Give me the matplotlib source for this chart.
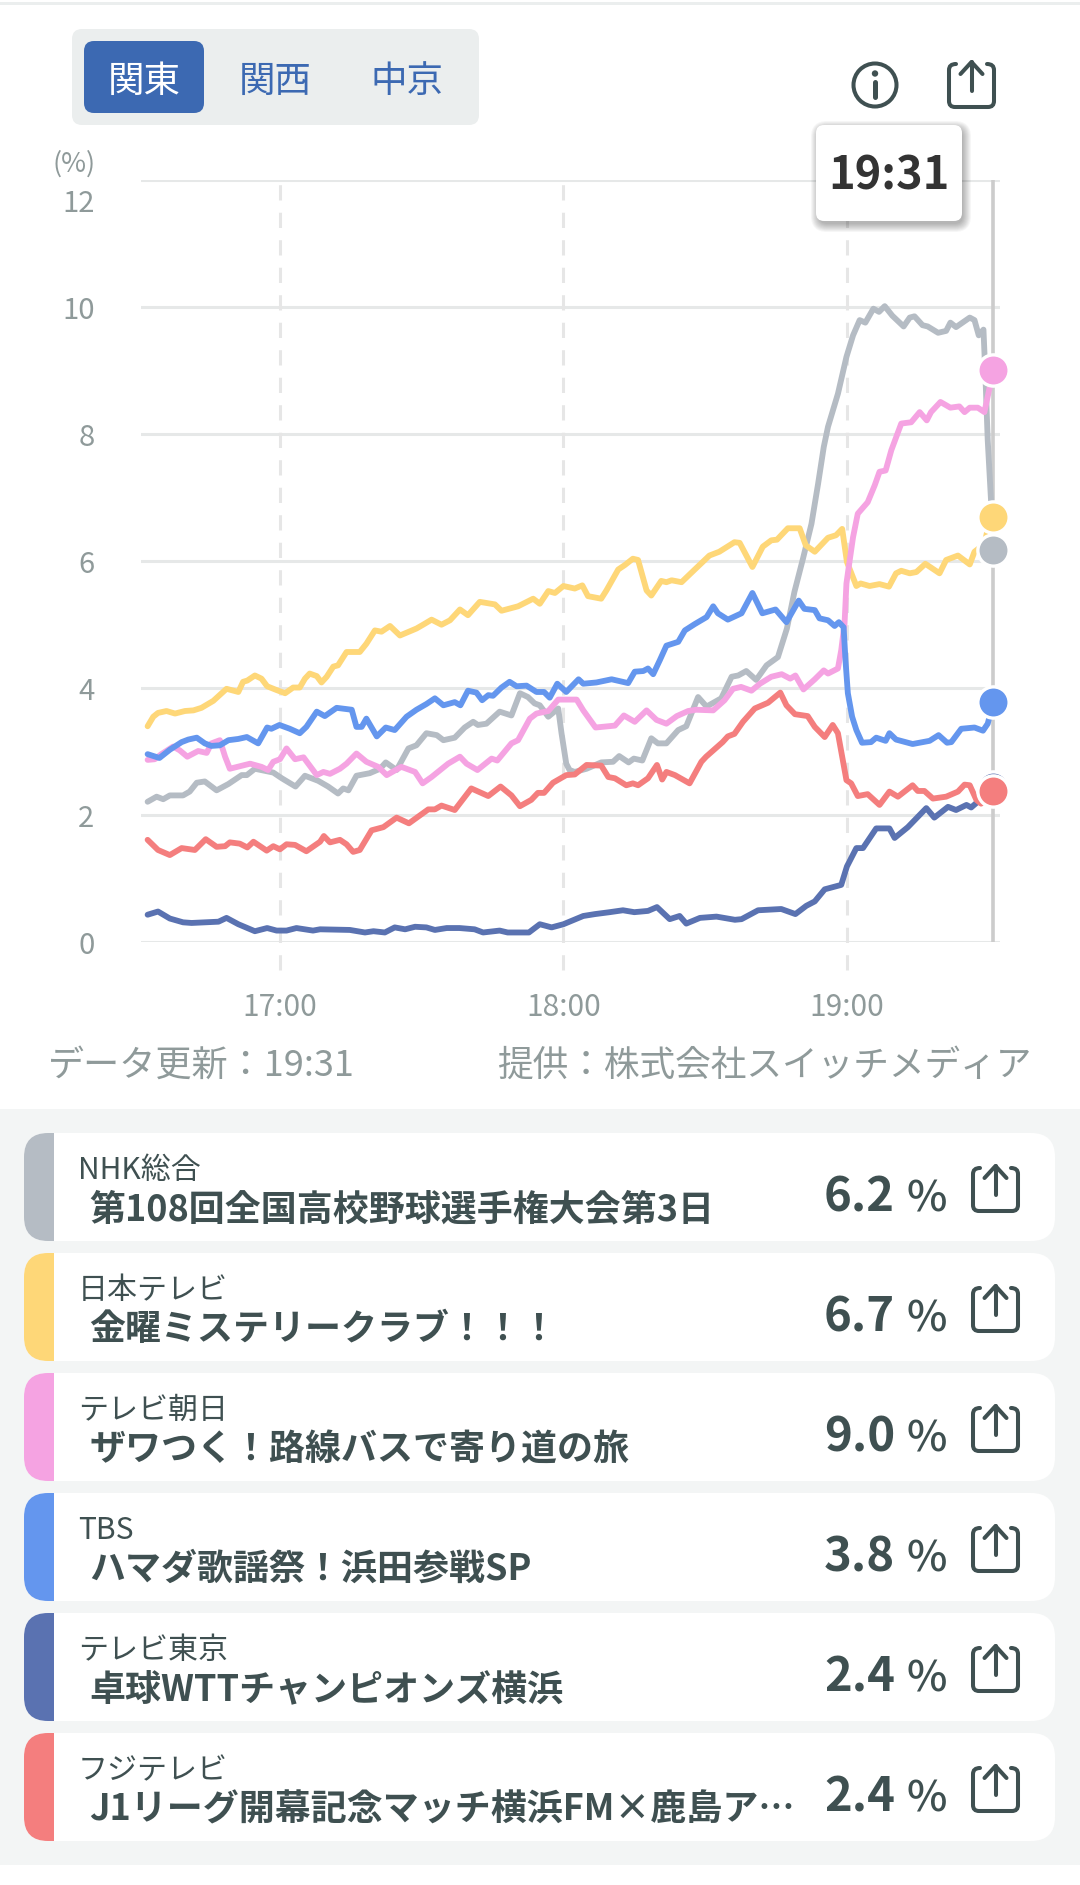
import matplotlib
matplotlib.use('Agg')
import matplotlib.pyplot as plt
from matplotlib.patches import FancyBboxPatch, Rectangle, Circle, PathPatch
from matplotlib.path import Path
from matplotlib.transforms import ScaledTranslation

plt.rcParams['font.family'] = ['Noto Sans CJK JP', 'DejaVu Sans']

# time = minutes after 16:00
t_nhk = [32, 33.9, 35.3, 36.7, 39.5, 40.9, 42.4, 44.1, 46.6, 49.1, 51.9, 53, 54.7, 58.6, 60.4, 63.3, 65.3, 68.1, 70.2, 72.3, 73.4, 74.5, 76.2, 79, 81.2, 82.4, 84.7, 87.2, 88.9, 91, 93.2, 94.6, 97, 99.1, 100.9, 101.9, 103.7, 106.5, 109, 110.8, 112.5, 113.9, 115, 116.8, 118.9, 119.6, 120.6, 121.3, 122.4, 124.9, 128, 130.5, 131.8, 133.8, 134.9, 136.7, 138.6, 140, 141.8, 144.3, 146, 148.5, 150.3, 153.4, 155.6, 157, 158.7, 160.8, 163, 165.4, 166.5, 167.3, 168.9, 170.7, 172.5, 173.9, 175.1, 176, 178.1, 179.9, 181.3, 182.7, 183.9, 185.6, 186.8, 188, 189.6, 192, 193.3, 194.3, 196, 197.1, 199.3, 201, 201.9, 203.1, 206, 207, 207.9, 208.9, 209.3, 209.8, 210.5, 211]
v_nhk = [2.21, 2.29, 2.25, 2.31, 2.31, 2.37, 2.51, 2.53, 2.39, 2.49, 2.63, 2.63, 2.73, 2.67, 2.58, 2.45, 2.62, 2.54, 2.45, 2.34, 2.42, 2.39, 2.62, 2.66, 2.73, 2.83, 2.71, 3.05, 3.10, 3.29, 3.26, 3.18, 3.22, 3.38, 3.47, 3.42, 3.44, 3.63, 3.57, 3.92, 3.86, 3.76, 3.73, 3.55, 3.68, 3.29, 2.81, 2.71, 2.68, 2.73, 2.83, 2.84, 2.93, 2.83, 2.89, 2.86, 3.21, 3.13, 3.13, 3.34, 3.40, 3.86, 3.71, 3.84, 4.18, 4.20, 4.27, 4.13, 4.36, 4.49, 4.75, 4.94, 5.52, 6.04, 6.59, 7.22, 7.80, 8.12, 8.64, 9.22, 9.56, 9.80, 9.76, 9.98, 9.93, 10.02, 9.87, 9.70, 9.84, 9.86, 9.72, 9.70, 9.60, 9.63, 9.76, 9.69, 9.84, 9.80, 9.56, 9.65, 8.95, 7.91, 6.96, 6.17]

t_ntv = [32, 33.2, 34.2, 36, 37.8, 39.9, 41.7, 43.4, 45.9, 48.7, 51.2, 52.2, 53.1, 54.7, 56.1, 57.3, 59.3, 61.1, 62.8, 64.2, 65.3, 66.3, 67.8, 68.8, 69.9, 71.3, 72.3, 74.1, 76.9, 78.3, 80.1, 81.5, 83.3, 85.4, 88.9, 90.3, 92.1, 94.2, 96, 98.1, 99.8, 102.3, 105.5, 106.9, 110.4, 113.6, 115, 116.8, 118.2, 120, 122.4, 124, 125.2, 128, 129.1, 131.6, 133, 134.7, 135.8, 137.6, 138.6, 140.7, 141.8, 142.9, 145, 147.8, 150.9, 153, 156.2, 157.3, 160, 162.2, 164, 165.2, 167.5, 170, 171.3, 173.2, 176, 177.7, 179, 180, 182, 182.9, 184.8, 186.9, 188.9, 190.4, 191.5, 193.3, 194.7, 196.6, 199.6, 201, 203.5, 206, 207, 209.1, 209.6, 211]
v_ntv = [3.40, 3.55, 3.61, 3.64, 3.60, 3.64, 3.65, 3.69, 3.80, 3.99, 3.94, 4.10, 4.12, 4.20, 4.15, 4.03, 3.97, 3.92, 4.01, 4.01, 4.15, 4.23, 4.19, 4.09, 4.18, 4.34, 4.36, 4.57, 4.57, 4.70, 4.91, 4.89, 4.98, 4.83, 4.94, 5.0, 5.08, 5.0, 5.07, 5.24, 5.15, 5.36, 5.32, 5.22, 5.29, 5.41, 5.33, 5.53, 5.50, 5.61, 5.57, 5.62, 5.45, 5.41, 5.54, 5.87, 5.94, 6.04, 6.02, 5.54, 5.46, 5.69, 5.67, 5.70, 5.67, 5.87, 6.09, 6.15, 6.30, 6.29, 5.91, 6.23, 6.33, 6.34, 6.52, 6.52, 6.25, 6.15, 6.37, 6.41, 6.51, 5.99, 5.61, 5.65, 5.61, 5.64, 5.60, 5.81, 5.85, 5.81, 5.83, 5.96, 5.81, 6.02, 6.09, 5.95, 6.15, 6.27, 6.44, 6.69]

t_ex = [32, 33.5, 34.9, 37.4, 38.8, 40.4, 42.7, 44.5, 45.5, 47.3, 48.4, 49.4, 52.6, 53.7, 56.1, 57.5, 58.6, 60, 61.4, 63.2, 65, 66, 67.8, 69.2, 70.6, 72.7, 74.1, 76.2, 78.3, 80.8, 82.6, 85.7, 88.6, 90.2, 92.1, 95.6, 98.1, 99.5, 101.8, 104.8, 106, 109, 110.4, 112.9, 114.3, 116.8, 118.9, 122.8, 124.2, 126.8, 130.9, 132.8, 135.1, 137.6, 139.7, 141.8, 144, 146.4, 148.1, 151.7, 154.1, 155.9, 157.6, 159.8, 161.6, 164, 166.2, 168, 169.1, 170.8, 173.2, 175.1, 176, 178.1, 178.8, 179.5, 179.9, 180.6, 181.3, 182.3, 184.4, 185.9, 186.9, 188.2, 189.4, 191.5, 193.6, 195.4, 196.9, 197.8, 199.8, 201.9, 203.8, 204.9, 206, 207.7, 209.1, 211]
v_ex = [2.87, 2.88, 2.96, 3.08, 3.02, 2.92, 3.01, 2.98, 3.13, 3.18, 2.92, 2.73, 2.79, 2.81, 2.76, 2.71, 2.84, 2.88, 3.05, 2.88, 2.91, 2.81, 2.63, 2.68, 2.65, 2.73, 2.81, 2.97, 2.84, 2.76, 2.63, 2.76, 2.68, 2.50, 2.60, 2.81, 2.92, 2.81, 2.71, 2.89, 2.86, 3.13, 3.18, 3.52, 3.60, 3.64, 3.82, 3.82, 3.65, 3.38, 3.41, 3.57, 3.47, 3.65, 3.50, 3.44, 3.56, 3.64, 3.66, 3.65, 3.81, 3.99, 4.02, 3.96, 4.07, 4.18, 4.22, 4.15, 4.20, 3.98, 4.14, 4.28, 4.23, 4.31, 4.60, 5.02, 5.65, 6.02, 6.38, 6.75, 6.93, 7.20, 7.41, 7.43, 7.75, 8.17, 8.19, 8.35, 8.22, 8.35, 8.51, 8.42, 8.44, 8.35, 8.42, 8.42, 8.35, 9.02]

t_tbs = [32, 34.5, 36.7, 39.2, 40.6, 42.4, 44.1, 45.5, 47.3, 49.1, 51.2, 53, 55.4, 57.3, 58.2, 59.9, 62.1, 64.2, 65.6, 67.8, 69.5, 72, 75.2, 76.2, 77.3, 78.3, 80.5, 82.4, 84.3, 86.8, 88.9, 91, 92.8, 94.6, 97, 98.2, 99.8, 101.6, 102.8, 104.1, 105.1, 106.9, 108.6, 110.1, 112.2, 114.3, 115.9, 117.1, 118.7, 120.6, 123.2, 124.2, 127, 130.2, 133.7, 135.1, 136.9, 137.9, 139, 140.4, 141.8, 144.3, 145.7, 147.8, 150.3, 151.7, 152.7, 154.8, 157.7, 160, 162.1, 164.9, 167.2, 169.8, 171, 173.2, 174.2, 176, 177.4, 178.3, 179.3, 179.7, 180.2, 181.1, 182, 183.2, 185.1, 186.2, 188.2, 189, 190.4, 193.9, 197.5, 199.4, 201.2, 202.1, 204.2, 207, 208.8, 209.8, 211]
v_tbs = [2.96, 2.90, 3.03, 3.15, 3.19, 3.22, 3.13, 3.09, 3.10, 3.18, 3.20, 3.23, 3.13, 3.38, 3.36, 3.42, 3.36, 3.29, 3.39, 3.63, 3.56, 3.69, 3.66, 3.39, 3.39, 3.52, 3.24, 3.38, 3.34, 3.55, 3.66, 3.75, 3.84, 3.73, 3.78, 3.73, 3.96, 3.93, 3.81, 3.89, 3.88, 4.01, 4.10, 4.03, 4.04, 3.94, 3.94, 3.85, 4.07, 3.94, 4.14, 4.07, 4.09, 4.14, 4.08, 4.26, 4.27, 4.31, 4.22, 4.44, 4.67, 4.73, 4.91, 5.01, 5.12, 5.29, 5.18, 5.08, 5.18, 5.50, 5.18, 5.24, 5.04, 5.38, 5.25, 5.23, 5.10, 5.07, 4.98, 5.04, 4.96, 4.44, 3.92, 3.55, 3.34, 3.14, 3.15, 3.22, 3.17, 3.29, 3.19, 3.12, 3.17, 3.26, 3.14, 3.15, 3.36, 3.38, 3.33, 3.44, 3.78]

t_tx = [32, 34.2, 36.7, 39.5, 41.3, 47, 48.7, 51.2, 54.7, 57.3, 59.3, 61.4, 63.5, 67, 68.5, 74.8, 78, 79.8, 82.2, 84.3, 86.5, 88.6, 91, 92.8, 95.3, 98, 101.2, 103, 106.5, 108.2, 112.7, 115, 117.5, 120, 124.2, 126.7, 129.8, 132.6, 135, 137.9, 139.8, 142.5, 144.6, 146, 148.9, 152.4, 156.3, 157.7, 161.2, 166.1, 169.1, 171.4, 173.2, 175.3, 178.8, 180, 182, 183.4, 186.2, 189, 190.1, 192.9, 196.8, 198.5, 201.4, 203.1, 205.3, 206.3, 207.7, 211]
v_tx = [0.43, 0.48, 0.37, 0.31, 0.30, 0.32, 0.38, 0.28, 0.17, 0.22, 0.18, 0.18, 0.22, 0.18, 0.20, 0.19, 0.15, 0.17, 0.15, 0.23, 0.20, 0.24, 0.23, 0.19, 0.22, 0.22, 0.20, 0.15, 0.18, 0.15, 0.15, 0.28, 0.23, 0.28, 0.41, 0.44, 0.47, 0.50, 0.47, 0.49, 0.55, 0.36, 0.41, 0.29, 0.38, 0.40, 0.35, 0.36, 0.50, 0.52, 0.44, 0.57, 0.64, 0.83, 0.90, 1.19, 1.48, 1.48, 1.79, 1.79, 1.64, 1.81, 2.11, 1.96, 2.13, 2.08, 2.16, 2.12, 2.21, 2.45]

t_cx = [32, 34.2, 36.7, 39.2, 42, 44.3, 46.6, 48.4, 49.4, 51.5, 53.1, 54.4, 57.2, 58.6, 60, 61.4, 63.2, 65.6, 68.5, 69.3, 70.6, 72.7, 74.1, 75.5, 76.9, 79.4, 81.9, 84.7, 87.3, 91.4, 92.8, 94.2, 97, 100.5, 104.1, 106.7, 109, 110.8, 113.2, 114.6, 115.9, 117.8, 120.6, 122.4, 124.9, 128, 129.5, 130.9, 133.3, 134.7, 135.8, 137.9, 139.8, 140.9, 141.8, 143.6, 146.7, 149.2, 150.2, 153.7, 154.8, 156.2, 158, 160.5, 163.3, 165.9, 167.2, 169, 171.7, 173.2, 175.3, 177, 178.1, 179.9, 180.9, 182.3, 184.4, 186.9, 189, 190.8, 193.9, 195, 196.4, 198.2, 201, 203.5, 204.9, 206, 207.4, 208.4, 211]
v_cx = [1.61, 1.45, 1.37, 1.48, 1.45, 1.62, 1.50, 1.51, 1.57, 1.55, 1.49, 1.58, 1.44, 1.51, 1.46, 1.54, 1.53, 1.43, 1.58, 1.67, 1.57, 1.61, 1.54, 1.42, 1.45, 1.76, 1.81, 1.96, 1.87, 2.09, 2.09, 2.15, 2.08, 2.42, 2.30, 2.45, 2.31, 2.14, 2.24, 2.35, 2.35, 2.51, 2.63, 2.64, 2.79, 2.78, 2.60, 2.58, 2.47, 2.50, 2.47, 2.58, 2.79, 2.56, 2.68, 2.63, 2.50, 2.84, 2.92, 3.15, 3.24, 3.28, 3.47, 3.68, 3.77, 3.93, 3.73, 3.59, 3.56, 3.39, 3.23, 3.42, 3.29, 2.55, 2.50, 2.30, 2.33, 2.16, 2.37, 2.29, 2.47, 2.38, 2.38, 2.26, 2.29, 2.37, 2.48, 2.47, 2.24, 2.18, 2.38]

channels = ['NHK総合', '日本テレビ', 'テレビ朝日', 'TBS', 'テレビ東京', 'フジテレビ']
programs = ['第108回全国高校野球選手権大会第3日', '金曜ミステリークラブ！！！', 'ザワつく！路線バスで寄り道の旅',
            'ハマダ歌謡祭！浜田参戦SP', '卓球WTTチャンピオンズ横浜', 'J1リーグ開幕記念マッチ横浜FM×鹿島ア…']
ratings = ['6.2', '6.7', '9.0', '3.8', '2.4', '2.4']
colors = ['#b5bcc4', '#fed778', '#f5a3e2', '#6496ee', '#5a72b1', '#f47e7e']
times = [t_nhk, t_ntv, t_ex, t_tbs, t_tx, t_cx]
values = [v_nhk, v_ntv, v_ex, v_tbs, v_tx, v_cx]

x_ticks = [60, 120, 180]
x_labels = ['17:00', '18:00', '19:00']
y_ticks = [0, 2, 4, 6, 8, 10, 12]

INK = '#3f5051'
MUTED = '#8f9a9a'
BLUE = '#3c69b2'
W, H = 1080, 1885

fig = plt.figure(figsize=(W / 100, H / 100), dpi=100, facecolor='white')


def pixel_axes(z):
    a = fig.add_axes([0, 0, 1, 1], zorder=z)
    a.set_xlim(0, W)
    a.set_ylim(H, 0)
    a.axis('off')
    a.patch.set_alpha(0)
    return a


def round_box(a, x0, y0, x1, y1, r, **kw):
    p = FancyBboxPatch((x0, y0), x1 - x0, y1 - y0, boxstyle='round,pad=0,rounding_size=%g' % r, lw=0, **kw)
    a.add_patch(p)
    return p


def share_icon(a, cx, bottom):
    top = bottom - 44
    hw, r = 22.5, 6
    verts = [(cx - hw + 7, top + 1), (cx - hw, top + 1), (cx - hw, top + 7), (cx - hw, bottom - r), (cx - hw, bottom),
             (cx - hw + r, bottom), (cx + hw - r, bottom), (cx + hw, bottom), (cx + hw, bottom - r),
             (cx + hw, top + 7), (cx + hw, top + 1), (cx + hw - 7, top + 1)]
    codes = [Path.MOVETO, Path.CURVE3, Path.CURVE3, Path.LINETO, Path.CURVE3, Path.CURVE3, Path.LINETO,
             Path.CURVE3, Path.CURVE3, Path.LINETO, Path.CURVE3, Path.CURVE3]
    a.add_patch(PathPatch(Path(verts, codes), fc='none', ec=INK, lw=2.9, capstyle='round'))
    a.plot([cx, cx], [top - 1, bottom - 16], color=INK, lw=2.9, solid_capstyle='round')
    a.plot([cx - 11, cx, cx + 11], [top + 11, top - 1, top + 11], color=INK, lw=2.9,
           solid_capstyle='round', solid_joinstyle='round')


bg = pixel_axes(0)
bg.add_patch(Rectangle((0, 2), W, 3, fc='#ebeeee', lw=0))
bg.add_patch(Rectangle((0, 1109), W, 756, fc='#f3f5f5', lw=0))

# region switch
round_box(bg, 72, 29, 479, 125, 10, fc='#ebeeee')
round_box(bg, 84, 41, 204, 113, 10, fc=BLUE)
bg.text(144, 92, '関東', color='white', fontsize=26.3, ha='center', va='baseline')
bg.text(275, 92, '関西', color=BLUE, fontsize=26.3, ha='center', va='baseline')
bg.text(407, 92, '中京', color=BLUE, fontsize=26.3, ha='center', va='baseline')

# info + share
bg.add_patch(Circle((875, 85), 21.5, fc='none', ec=INK, lw=2.9))
bg.add_patch(Circle((875, 73.5), 3.2, fc=INK, lw=0))
bg.plot([875, 875], [82, 97], color=INK, lw=3.6, solid_capstyle='round')
share_icon(bg, 971.5, 107)

bg.text(96, 172, '(%)', color=MUTED, fontsize=19.5, ha='right', va='baseline')
bg.text(48, 1076, 'データ更新：19:31', color=MUTED, fontsize=26, ha='left', va='baseline')
bg.text(1031, 1076, '提供：株式会社スイッチメディア', color=MUTED, fontsize=25.7, ha='right', va='baseline')

# programme cards
for i in range(6):
    top = 1133 + 120 * i
    round_box(bg, 24, top, 1055, top + 108, 24, fc='white')
    strip = round_box(bg, 24, top, 200, top + 108, 24, fc=colors[i])
    strip.set_clip_path(Rectangle((24, top), 30, 108, transform=bg.transData))
    bg.text(78, top + 46, channels[i], color=INK, fontsize=21.6, ha='left', va='baseline')
    bg.text(89, top + 87, programs[i], color=INK, fontsize=25.9, weight='bold', ha='left', va='baseline')
    bg.text(824, top + 78, ratings[i], color=INK, fontsize=34, weight='bold', ha='left', va='baseline')
    bg.text(906, top + 78, '%', color=INK, fontsize=31, weight='medium', ha='left', va='baseline')
    share_icon(bg, 995.5, top + 78)

# chart
ax = fig.add_axes([141 / W, 1 - 942 / H, 859 / W, (942 - 180.5) / H], zorder=1)
ax.patch.set_alpha(0)
ax.set_xlim(30.6, 212.4)
ax.set_ylim(0, 12)
for s in ax.spines.values():
    s.set_visible(False)
ax.set_xticks(x_ticks, x_labels)
ax.set_yticks(y_ticks)
ax.tick_params(length=0, labelcolor=MUTED)
ax.tick_params(axis='x', labelsize=21.5, pad=36)
ax.tick_params(axis='y', labelsize=21, pad=33.5)
ax.set_axisbelow(True)
ax.yaxis.grid(True, color='#e6e8e8', lw=2.2)
ylab = ax.get_yticklabels()[-1]
ylab.set_transform(ylab.get_transform() + ScaledTranslation(0, -20 / 100, fig.dpi_scale_trans))

ax.vlines(x_ticks, -0.44, 12, color='#e6e6e6', lw=2.2, linestyles=(0, (5, 4)), clip_on=False, zorder=1)
ax.vlines(211, 0, 12, color='#cccccc', lw=2.6, clip_on=False, zorder=1.5)

for i in range(6):
    ax.plot(times[i], values[i], color=colors[i], lw=4.2, solid_joinstyle='round', solid_capstyle='round',
            zorder=2 + i * 0.1)
for i in range(6):
    ax.plot(times[i][-1], values[i][-1], 'o', color=colors[i], ms=22.5, mec='white', mew=2.4, clip_on=False,
            zorder=3 + i * 0.1)

# tooltip over the chart
tip = pixel_axes(2)
for k in range(9):
    round_box(tip, 816 - k + 3, 125 - k + 4, 962 + k + 1, 221 + k + 3, 8 + k, fc='black', alpha=0.035)
round_box(tip, 816, 125, 962, 221, 8, fc='white')
tip.text(889, 189, '19:31', color='#333333', fontsize=32.5, weight='bold', ha='center', va='baseline')

fig.savefig('out.png', dpi=100)
